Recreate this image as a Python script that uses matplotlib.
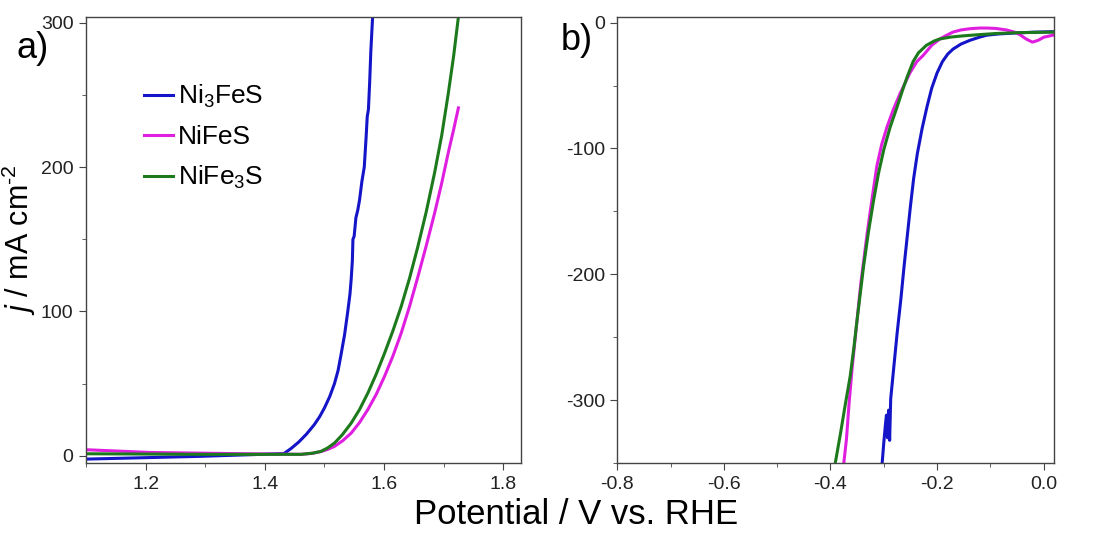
import matplotlib
matplotlib.use("Agg")
import matplotlib.pyplot as plt
from matplotlib.ticker import MultipleLocator, FormatStrFormatter

plt.rcParams['font.family'] = ['Liberation Sans', 'DejaVu Sans']
plt.rcParams['mathtext.fontset'] = 'custom'
plt.rcParams['mathtext.rm'] = 'Liberation Sans'
plt.rcParams['mathtext.it'] = 'Liberation Sans:italic'
plt.rcParams['axes.unicode_minus'] = False

# ---- panel a) OER polarisation (potential V, current mA/cm2) ----
ni3fes_x = [1.10, 1.20, 1.29, 1.38, 1.432, 1.444, 1.457, 1.470, 1.483, 1.492, 1.500,
            1.509, 1.517, 1.523, 1.528, 1.534, 1.539, 1.543, 1.545, 1.547, 1.548,
            1.550, 1.553, 1.556, 1.559, 1.563, 1.567, 1.570, 1.572, 1.574, 1.576,
            1.578, 1.581]
ni3fes_y = [-2.3, -1.3, -0.4, 0.8, 1.5, 5.0, 9.5, 15, 21.5, 27, 33,
            41, 50, 59, 70, 84, 99, 112, 122, 135, 150,
            152, 165, 170, 177, 190, 200, 220, 235, 240, 258,
            280, 304]

nifes_x = [1.10, 1.208, 1.35, 1.461, 1.480, 1.495, 1.506, 1.517, 1.531, 1.545, 1.559,
           1.573, 1.587, 1.601, 1.615, 1.629, 1.643, 1.657, 1.671, 1.685, 1.697,
           1.708, 1.717, 1.725]
nifes_y = [4.2, 2.3, 1.5, 1.0, 1.7, 3.0, 4.5, 6.5, 10.5, 15.7, 23,
           32, 42.5, 55, 69, 85, 103.5, 124, 145.5, 168, 189,
           210, 226, 241]

nife3s_x = [1.10, 1.30, 1.461, 1.480, 1.494, 1.505, 1.517, 1.530, 1.545, 1.559, 1.573,
            1.587, 1.601, 1.615, 1.629, 1.643, 1.657, 1.671, 1.685, 1.697, 1.708,
            1.717, 1.725]
nife3s_y = [1.4, 1.0, 1.0, 1.8, 3.0, 5.3, 8.8, 14.5, 22.6, 32, 43.4,
            56.5, 71, 86.5, 103.5, 123, 145, 169, 196, 222, 251,
            277, 304]

# ---- panel b) HER polarisation ----
her_ni3fes_x = [-0.303, -0.300, -0.297, -0.295, -0.293, -0.291, -0.289, -0.287, -0.281,
                -0.275, -0.268, -0.262, -0.256, -0.250, -0.244, -0.237, -0.228, -0.219,
                -0.210, -0.200, -0.190, -0.180, -0.170, -0.155, -0.138, -0.120, -0.107,
                -0.085, -0.057, -0.020, 0.019]
her_ni3fes_y = [-350, -334, -320, -312, -330, -308, -332, -299, -273,
                -247, -220, -194, -170, -146, -124, -104, -84, -67,
                -52, -40, -31, -25, -21, -17, -14, -11.5, -10,
                -9, -8.3, -7.6, -7.2]

her_nifes_x = [-0.375, -0.370, -0.365, -0.359, -0.351, -0.343, -0.337, -0.331, -0.322,
               -0.313, -0.304, -0.294, -0.282, -0.269, -0.260, -0.251, -0.238, -0.226,
               -0.210, -0.195, -0.182, -0.170, -0.155, -0.138, -0.120, -0.107, -0.090,
               -0.070, -0.055, -0.044, -0.033, -0.021, -0.010, 0.0, 0.019]
her_nifes_y = [-350, -331, -302, -273, -240, -207, -187, -167, -140,
               -114, -97, -83, -69, -56, -48, -40, -31, -26,
               -18, -13, -10, -7.5, -5.8, -4.8, -4.3, -4.3, -4.6,
               -5.8, -7.5, -9.7, -13, -15.5, -14, -11.6, -9.8]

her_nife3s_x = [-0.391, -0.381, -0.372, -0.363, -0.356, -0.350, -0.344, -0.338, -0.329,
                -0.319, -0.310, -0.300, -0.288, -0.275, -0.265, -0.256, -0.245, -0.235,
                -0.220, -0.205, -0.195, -0.175, -0.151, -0.120, -0.088, -0.050, 0.019]
her_nife3s_y = [-350, -326, -303, -281, -258, -236, -215, -194, -167,
                -141, -120, -101, -83, -67, -54, -43, -31, -24,
                -18, -14.5, -13, -11.5, -10.5, -9.5, -8.6, -8, -7.5]

labels = ['Ni$_3$FeS', 'NiFeS', 'NiFe$_3$S']
colors = ['#1414C8', '#E01EE0', '#1C7A1C']

fig = plt.figure(figsize=(10.97, 5.39), dpi=100)
ax1 = fig.add_axes([0.0784, 0.141, 0.3965, 0.8275])
ax2 = fig.add_axes([0.5627, 0.141, 0.3984, 0.8275])

for x, y, c, lab in zip([ni3fes_x, nifes_x, nife3s_x], [ni3fes_y, nifes_y, nife3s_y], colors, labels):
    ax1.plot(x, y, color=c, lw=2.2, label=lab)
for x, y, c in zip([her_ni3fes_x, her_nifes_x, her_nife3s_x],
                   [her_ni3fes_y, her_nifes_y, her_nife3s_y], colors):
    ax2.plot(x, y, color=c, lw=2.2)

ax1.set_xlim(1.1, 1.83)
ax1.set_ylim(-5, 304)
ax1.set_xticks([1.2, 1.4, 1.6, 1.8])
ax1.set_ylabel(r'$\mathit{j}$ / mA cm$^{\text{-}2}$', fontsize=22, labelpad=2)

ax2.set_xlim(-0.8, 0.02)
ax2.set_ylim(-350, 4.5)
ax2.xaxis.set_major_locator(MultipleLocator(0.2))

for ax in (ax1, ax2):
    ax.xaxis.set_minor_locator(MultipleLocator(0.1))
    ax.yaxis.set_major_locator(MultipleLocator(100))
    ax.yaxis.set_minor_locator(MultipleLocator(50))
    ax.xaxis.set_major_formatter(FormatStrFormatter('%.1f'))
    for s in ax.spines.values():
        s.set_color('#444444')
        s.set_linewidth(1.0)
    ax.tick_params(which='both', direction='out', labelsize=14, colors='#444444',
                   labelcolor='#222222', pad=4)
    ax.tick_params(which='major', length=5)
    ax.tick_params(which='minor', length=3)

ax1.legend(loc='upper left', bbox_to_anchor=(0.108, 0.875), frameon=False, fontsize=19,
           handlelength=1.1, handletextpad=0.2, labelspacing=0.56, borderaxespad=0)

fig.text(0.015, 1 - 58 / 539, 'a)', fontsize=26, va='baseline', ha='left')
fig.text(561 / 1097, 1 - 50 / 539, 'b)', fontsize=26, va='baseline', ha='left')
fig.text(576 / 1097, 0.045, 'Potential / V vs. RHE', fontsize=25, ha='center', va='center')

fig.savefig('out.png', dpi=100)
